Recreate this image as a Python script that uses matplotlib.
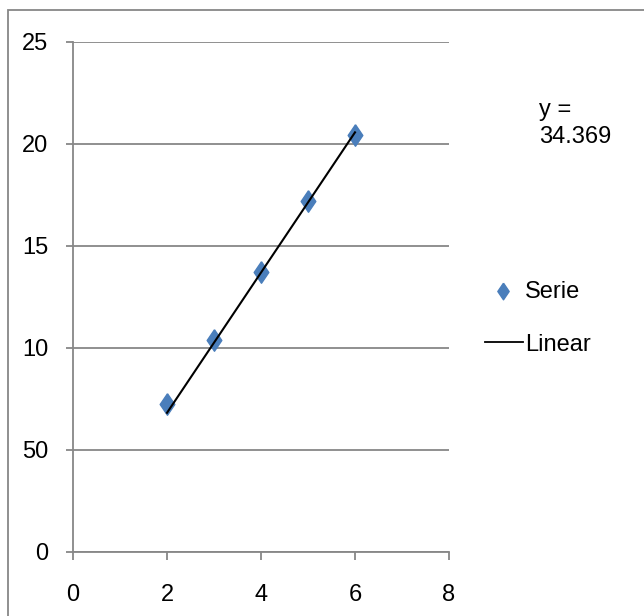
import matplotlib
matplotlib.use("Agg")
import matplotlib.pyplot as plt
from matplotlib.lines import Line2D
from matplotlib.patches import Rectangle

plt.rcParams['font.family'] = ['Liberation Sans', 'DejaVu Sans']

# Data
x_vals = [2, 3, 4, 5, 6]
y_vals = [72.5, 103.9, 137.4, 172.2, 204.4]
slope = 34.369
intercept = -0.5
trend_x = [2, 6]

x_ticks = [0, 2, 4, 6, 8]
x_ticklabels = ["0", "2", "4", "6", "8"]
y_ticks = [0, 50, 100, 150, 200, 250]
y_ticklabels = ["0", "50", "10", "15", "20", "25"]

series_name = "Serie"
trend_name = "Linear"
equation_text = "y =\n34.369"

W, H = 644, 616
fig = plt.figure(figsize=(W / 100, H / 100), dpi=100)
fig.patch.set_facecolor("white")

def fx(px):
    return px / W

def fy(py):
    return 1 - py / H

ax = fig.add_axes([fx(73), fy(552), fx(449) - fx(73), fy(42) - fy(552)])

grid_color = "#878787"
blue = "#4A7EBB"
diamond = [(0, 1), (0.68, 0), (0, -1), (-0.68, 0), (0, 1)]

ax.set_xlim(0, 8)
ax.set_ylim(0, 250)
ax.set_xticks(x_ticks)
ax.set_xticklabels(x_ticklabels)
ax.set_yticks(y_ticks)
ax.set_yticklabels(y_ticklabels)

ax.yaxis.grid(True, color=grid_color, linewidth=1.3)
ax.set_axisbelow(True)
for side in ("top", "right"):
    ax.spines[side].set_visible(False)
for side in ("left", "bottom"):
    ax.spines[side].set_color(grid_color)
    ax.spines[side].set_linewidth(1.3)

ax.tick_params(axis="y", direction="out", length=5, width=1.3, color=grid_color,
               labelsize=17, pad=13)
ax.tick_params(axis="x", direction="out", length=6, width=1.3, color=grid_color,
               labelsize=17, pad=17)

# Scatter series
ax.plot(x_vals, y_vals, linestyle="none", marker=diamond, markersize=15.5,
        color=blue, markeredgecolor=blue, zorder=3, clip_on=False)

# Linear trend line
trend_y = [slope * xv + intercept for xv in trend_x]
ax.plot(trend_x, trend_y, color="black", linewidth=1.5, zorder=4)

# Equation label
fig.text(fx(539), fy(99), equation_text, fontsize=17, va="top", ha="left",
         linespacing=1.3)

# Legend
fig.add_artist(Line2D([fx(503)], [fy(291)], linestyle="none", marker=diamond,
                      markersize=12, color=blue, markeredgecolor=blue))
fig.text(fx(525), fy(292), series_name, fontsize=17, va="center", ha="left")
fig.add_artist(Line2D([fx(485), fx(523)], [fy(342), fy(342)], color="black",
                      linewidth=1.3))
fig.text(fx(525), fy(345), trend_name, fontsize=17, va="center", ha="left")

# Outer chart frame
fig.add_artist(Rectangle((fx(8), fy(640)), fx(680) - fx(8), fy(10) - fy(640),
                         fill=False, edgecolor=grid_color, linewidth=1.3,
                         transform=fig.transFigure, clip_on=False))

fig.savefig("out.png", dpi=100)
